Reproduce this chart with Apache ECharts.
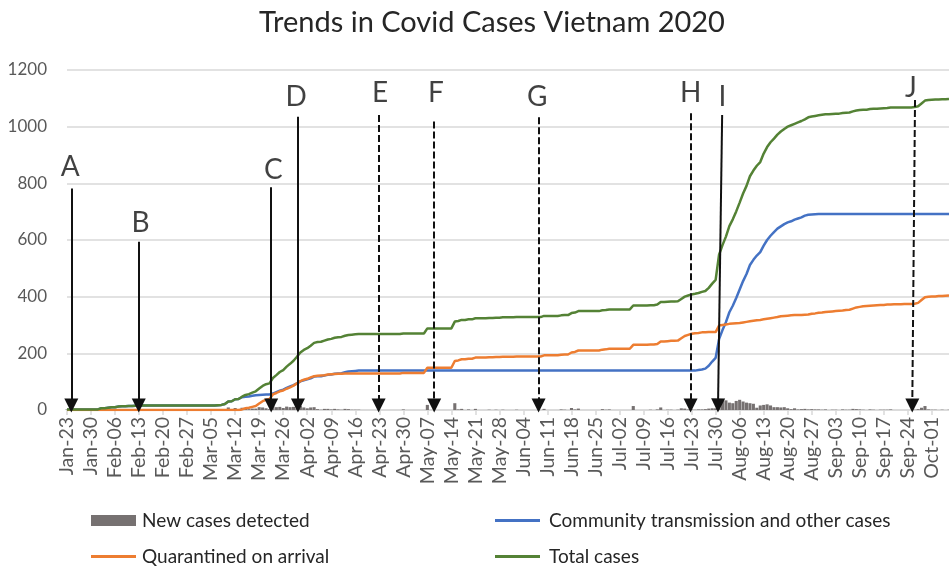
<!DOCTYPE html>
<html><head><meta charset="utf-8">
<script src="https://cdn.jsdelivr.net/npm/echarts@6/dist/echarts.min.js"></script>
<style>html,body{margin:0;padding:0;background:#fff}#c{width:949px;height:572px}</style>
</head><body><div id="c"></div>
<script>
// ---- categories: daily dates Jan-23 .. Oct-06 (2020) ----
const monthNames = ['Jan','Feb','Mar','Apr','May','Jun','Jul','Aug','Sep','Oct'];
const monthDays = [31,29,31,30,31,30,31,31,30,31];
const categories = [];
(function(){ let m = 0, d = 23;
  for (let i = 0; i < 258; i++) {
    categories.push(monthNames[m] + '-' + (d < 10 ? '0' + d : '' + d));
    d++; if (d > monthDays[m]) { d = 1; m++; }
  }
})();

const seriesNames = ['New cases detected','Community transmission and other cases','Quarantined on arrival','Total cases'];

const newCases = [
 2,0,0,0,0,0,0,0,0,1,
 4,0,2,2,0,2,1,0,1,0,
 1,0,1,0,0,0,0,0,0,0,
 0,0,0,0,0,0,0,0,0,0,
 0,0,0,0,1,1,3,9,1,7,
 1,8,6,3,5,5,10,9,6,3,
 19,10,11,7,12,10,11,14,15,9,
 6,9,10,3,1,4,4,2,4,2,
 1,4,3,1,1,1,0,0,0,0,
 0,0,0,0,0,0,0,0,2,0,
 0,0,0,0,0,18,0,0,0,0,
 0,0,0,24,2,4,0,2,0,4,
 0,0,0,1,0,1,0,1,0,0,
 0,1,0,0,0,0,0,0,0,4,
 0,0,0,0,2,1,0,7,2,5,
 0,0,0,0,0,0,3,1,2,0,
 0,0,0,0,0,14,0,0,0,0,
 1,0,2,9,0,1,1,0,1,6,
 5,2,2,1,2,2,3,5,6,6,
 30,38,34,26,24,32,36,30,26,24,
 22,8,16,18,20,16,10,10,9,10,
 6,3,6,2,3,4,2,3,2,2,
 1,2,0,1,1,0,2,1,1,4,
 3,2,1,0,2,1,0,1,1,1,
 2,0,0,0,0,0,0,1,3,8,
 14,2,1,1,0,1,0,1
];

const community = [
 2,2,2,2,2,2,2,2,2,2,
 6,6,8,10,10,12,13,13,14,14,
 15,15,16,16,16,16,16,16,16,16,
 16,16,16,16,16,16,16,16,16,16,
 16,16,16,16,17,18,21,30,31,38,
 39,45,47,48,50,52,53,54,55,55,
 58,63,68,72,78,83,88,94,101,105,
 108,112,118,119,119,122,124,125,128,129,
 130,133,136,137,138,139,139,139,139,139,
 139,139,139,139,139,139,139,139,139,139,
 139,139,139,139,139,139,139,139,139,139,
 139,139,139,139,139,139,139,139,139,139,
 139,139,139,139,139,139,139,139,139,139,
 139,139,139,139,139,139,139,139,139,139,
 139,139,139,139,139,139,139,139,139,139,
 139,139,139,139,139,139,139,139,139,139,
 139,139,139,139,139,139,139,139,139,139,
 139,139,139,139,139,139,139,139,139,139,
 139,139,139,139,141,143,146,156,171,184,
 250,282,310,345,368,395,425,455,480,512,
 530,545,557,580,600,615,628,640,648,656,
 662,666,672,676,680,686,689,690,691,692,
 692,692,692,692,692,692,692,692,692,692,
 692,692,692,692,692,692,692,692,692,692,
 692,692,692,692,692,692,692,692,692,692,
 692,692,692,692,692,692,692,692
];

const quarantined = [
 0,0,0,0,0,0,0,0,0,0,
 0,0,0,0,0,0,0,0,0,0,
 0,0,0,0,0,0,0,0,0,0,
 0,0,0,0,0,0,0,0,0,0,
 0,0,0,0,0,0,0,0,0,0,
 0,2,6,8,11,14,23,31,36,39,
 55,60,66,69,75,80,86,94,102,107,
 110,115,119,121,122,123,125,126,127,128,
 128,129,129,129,129,129,129,129,129,129,
 129,129,129,129,129,129,129,129,131,131,
 131,131,131,131,131,149,149,149,149,149,
 149,149,149,173,175,179,179,181,181,185,
 185,185,185,186,186,187,187,188,188,188,
 188,189,189,189,189,189,189,189,189,193,
 193,193,193,193,195,196,196,203,205,210,
 210,210,210,210,210,210,213,214,216,216,
 216,216,216,216,216,230,230,230,230,230,
 231,231,233,242,242,243,244,244,245,253,
 261,265,269,271,272,274,274,275,275,275,
 298,300,302,304,305,306,307,309,311,313,
 315,317,318,320,322,324,326,328,331,332,
 333,334,335,335,335,336,337,340,341,343,
 344,346,347,348,349,350,351,353,354,358,
 362,364,366,367,368,369,370,371,371,372,
 372,373,373,373,374,374,374,375,378,388,
 398,400,401,401,402,402,403,404
];

const totalCases = [
 2,2,2,2,2,2,2,2,2,2,
 6,6,8,10,10,12,13,13,14,14,
 15,15,16,16,16,16,16,16,16,16,
 16,16,16,16,16,16,16,16,16,16,
 16,16,16,16,17,18,21,30,31,38,
 39,47,53,56,61,66,76,85,91,94,
 113,123,134,141,153,163,174,188,203,212,
 218,227,237,240,241,245,249,251,255,257,
 258,262,265,266,267,268,268,268,268,268,
 268,268,268,268,268,268,268,268,270,270,
 270,270,270,270,270,288,288,288,288,288,
 288,288,288,312,314,318,318,320,320,324,
 324,324,324,325,325,326,326,327,327,327,
 327,328,328,328,328,328,328,328,328,332,
 332,332,332,332,334,335,335,342,344,349,
 349,349,349,349,349,349,352,353,355,355,
 355,355,355,355,355,369,369,369,369,369,
 370,370,372,381,381,382,383,383,384,392,
 400,404,408,410,413,417,420,431,446,459,
 548,582,612,649,673,701,732,764,791,825,
 845,862,875,905,928,945,958,972,983,992,
 1000,1005,1010,1015,1020,1026,1033,1036,1038,1040,
 1042,1044,1044,1045,1046,1046,1048,1049,1050,1054,
 1057,1059,1060,1060,1062,1063,1063,1064,1065,1066,
 1068,1068,1068,1068,1068,1068,1068,1069,1072,1082,
 1092,1094,1095,1096,1096,1097,1097,1098
];

// ---- annotations (day index / case-count coordinates) ----
const annoLetters = ['A','B','C','D','E','F','G','H','I','J'];
const annoDayTop    = [1.25, 20.9, 59.5, 67.3, 90.8, 107.0, 137.4, 181.7, 190.9, 247.1];
const annoDayBottom = [1.25, 20.9, 59.5, 67.3, 90.8, 107.0, 137.4, 181.7, 189.7, 246.3];
const annoTopValue  = [782, 594, 786, 1035, 1041, 1018, 1033, 1047, 1041, 1094];
const annoDashed    = [false,false,false,false,true,true,true,true,false,true];
const annoLabelDay  = [0.96, 21.4, 60.1, 66.8, 91.2, 107.5, 137.0, 181.7, 191.0, 245.9];
const annoLabelValue= [859, 659, 847, 1106, 1118, 1118, 1106, 1118, 1106, 1135];
const arrowEndValue = 16;

const FONT = 'Lato';
const chart = echarts.init(document.getElementById('c'));

const markLineData = annoLetters.map((l, i) => [
  { coord: [annoDayTop[i], annoTopValue[i]],
    lineStyle: { type: annoDashed[i] ? [7, 3] : 'solid', color: '#111', width: 2 } },
  { coord: [annoDayBottom[i], arrowEndValue] }
]);
const letterData = annoLetters.map((l, i) => [annoLabelDay[i], annoLabelValue[i], l]);

function legendItem(name, left, top, h, gap) {
  return { data: [name], left: left, top: top, padding: 0, icon: 'rect', itemWidth: 45, itemHeight: h,
    textStyle: { fontFamily: FONT, fontSize: 19, color: '#262626', padding: [0,0,0,gap] },
    selectedMode: false };
}

chart.setOption({
  animation: false,
  backgroundColor: '#fff',
  title: { text: 'Trends in Covid Cases Vietnam 2020', left: 487, top: 3, textAlign: 'center',
    textStyle: { fontFamily: FONT, fontSize: 29, fontWeight: 'normal', color: '#262626' } },
  legend: [
    legendItem(seriesNames[0], 91, 511, 11, 1),
    legendItem(seriesNames[1], 495, 511, 3, 4),
    legendItem(seriesNames[2], 91, 547, 3, 1),
    legendItem(seriesNames[3], 495, 547, 3, 4)
  ],
  grid: { left: 67, right: 0, top: 70, bottom: 162, containLabel: false },
  xAxis: [
    { type: 'category', data: categories, boundaryGap: false,
      axisLine: { lineStyle: { color: '#d9d9d9', width: 1.5 } },
      axisTick: { show: true, interval: 6, length: 5, lineStyle: { color: '#d9d9d9', width: 1.5 } },
      axisLabel: { interval: 6, rotate: 90, margin: 7, fontFamily: FONT, fontSize: 19.5, color: '#595959' },
      splitLine: { show: false } },
    { type: 'value', min: 0, max: 257, show: false }
  ],
  yAxis: { type: 'value', min: 0, max: 1200, interval: 200,
    axisLine: { show: false }, axisTick: { show: false },
    axisLabel: { margin: 20, fontFamily: FONT, fontSize: 17, color: '#595959', formatter: v => String(v) },
    splitLine: { lineStyle: { color: '#d9d9d9', width: 1.5 } } },
  series: [
    { name: seriesNames[0], type: 'bar', data: newCases, barCategoryGap: '10%',
      itemStyle: { color: '#767171' }, color: '#767171' },
    { name: seriesNames[1], type: 'line', data: community, symbol: 'none', color: '#4472c4',
      lineStyle: { color: '#4472c4', width: 2.5 } },
    { name: seriesNames[2], type: 'line', data: quarantined, symbol: 'none', color: '#ed7d31',
      lineStyle: { color: '#ed7d31', width: 2.5 } },
    { name: seriesNames[3], type: 'line', data: totalCases, symbol: 'none', color: '#548235',
      lineStyle: { color: '#548235', width: 2.5 } },
    { name: 'annotations', type: 'scatter', xAxisIndex: 1, z: 10, silent: true,
      data: letterData, symbol: 'circle', symbolSize: 1,
      itemStyle: { color: 'rgba(0,0,0,0)' },
      label: { show: true, position: 'inside', formatter: p => p.data[2],
        fontFamily: FONT, fontSize: 28, color: '#111' },
      markLine: { silent: true, symbol: ['none', 'triangle'], symbolSize: 14,
        label: { show: false }, itemStyle: { color: '#111' },
        lineStyle: { color: '#111', width: 2 },
        data: markLineData } }
  ]
});
</script></body></html>
